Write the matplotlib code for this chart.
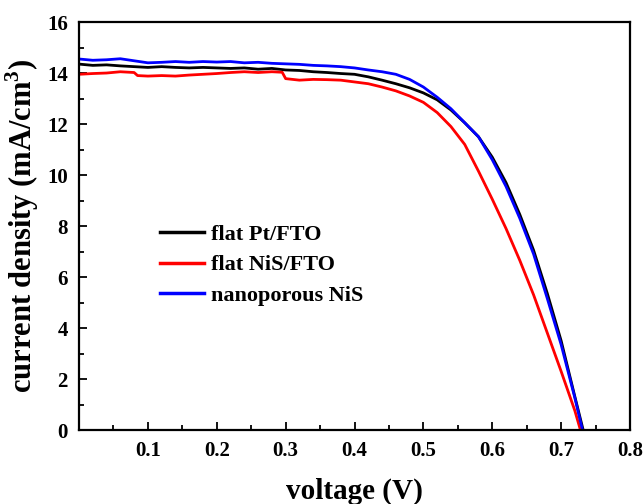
import numpy as np
import matplotlib
matplotlib.use('Agg')
import matplotlib.pyplot as plt
from matplotlib.ticker import MultipleLocator

plt.rcParams['font.family'] = ['Liberation Serif', 'DejaVu Serif']
plt.rcParams['font.weight'] = 'bold'
plt.rcParams['mathtext.fontset'] = 'custom'
plt.rcParams['mathtext.rm'] = 'Liberation Serif:bold'
plt.rcParams['mathtext.bf'] = 'Liberation Serif:bold'

# J-V curves, voltage in V, current density in mA/cm3
v_pt = [0.00, 0.02, 0.04, 0.06, 0.08, 0.10, 0.12, 0.14, 0.16, 0.18, 0.20, 0.22,
        0.24, 0.26, 0.28, 0.30, 0.32, 0.34, 0.36, 0.38, 0.40, 0.42, 0.44, 0.46,
        0.48, 0.50, 0.52, 0.54, 0.56, 0.58, 0.60, 0.62, 0.64, 0.66, 0.68, 0.70,
        0.72, 0.732]
j_pt = [14.35, 14.30, 14.32, 14.28, 14.25, 14.22, 14.25, 14.22, 14.20, 14.22, 14.20, 14.18,
        14.20, 14.15, 14.18, 14.12, 14.10, 14.05, 14.02, 13.98, 13.95, 13.85, 13.72, 13.58,
        13.42, 13.22, 12.95, 12.55, 12.05, 11.50, 10.70, 9.70, 8.45, 7.05, 5.35, 3.50,
        1.30, 0.0]

v_nis = [0.00, 0.02, 0.04, 0.06, 0.08, 0.085, 0.10, 0.12, 0.14, 0.16, 0.18, 0.20,
         0.22, 0.24, 0.26, 0.28, 0.295, 0.30, 0.32, 0.34, 0.36, 0.38, 0.40, 0.42,
         0.44, 0.46, 0.48, 0.50, 0.52, 0.54, 0.56, 0.58, 0.60, 0.62, 0.64, 0.66,
         0.68, 0.70, 0.72, 0.728]
j_nis = [13.95, 13.98, 14.00, 14.05, 14.02, 13.90, 13.88, 13.90, 13.88, 13.92, 13.95, 13.98,
         14.02, 14.05, 14.02, 14.05, 14.03, 13.78, 13.72, 13.75, 13.74, 13.72, 13.65, 13.58,
         13.45, 13.30, 13.10, 12.85, 12.45, 11.90, 11.20, 10.15, 9.05, 7.90, 6.65, 5.30,
         3.80, 2.30, 0.75, 0.0]

v_nano = [0.00, 0.02, 0.04, 0.06, 0.08, 0.10, 0.12, 0.14, 0.16, 0.18, 0.20, 0.22,
          0.24, 0.26, 0.28, 0.30, 0.32, 0.34, 0.36, 0.38, 0.40, 0.42, 0.44, 0.46,
          0.48, 0.50, 0.52, 0.54, 0.56, 0.58, 0.60, 0.62, 0.64, 0.66, 0.68, 0.70,
          0.72, 0.731]
j_nano = [14.55, 14.50, 14.52, 14.56, 14.48, 14.40, 14.42, 14.45, 14.42, 14.45, 14.43, 14.45,
          14.40, 14.42, 14.38, 14.36, 14.34, 14.30, 14.28, 14.25, 14.20, 14.12, 14.05, 13.95,
          13.75, 13.45, 13.05, 12.60, 12.05, 11.50, 10.60, 9.55, 8.30, 6.90, 5.15, 3.35,
          1.25, 0.0]

labels = ['flat Pt/FTO', 'flat NiS/FTO', 'nanoporous NiS']
colors = ['black', 'red', 'blue']

fig = plt.figure(figsize=(6.43, 5.04), dpi=100)
ax = fig.add_axes([0.1229, 0.1468, 0.8569, 0.8095])

for v, j, lab, c in zip([v_pt, v_nis, v_nano], [j_pt, j_nis, j_nano], labels, colors):
    ax.plot(v, j, color=c, lw=2.0, label=lab)

ax.set_xlim(0, 0.8)
ax.set_ylim(0, 16)
ax.set_xticks([0.1, 0.2, 0.3, 0.4, 0.5, 0.6, 0.7, 0.8])
ax.xaxis.set_minor_locator(MultipleLocator(0.05))
ax.yaxis.set_major_locator(MultipleLocator(2))
ax.yaxis.set_minor_locator(MultipleLocator(1))

ax.tick_params(which='both', direction='in', top=False, right=False,
               labelsize=15, width=1.3)
ax.tick_params(which='major', length=6, pad=8)
ax.tick_params(which='minor', length=3.5)
for s in ax.spines.values():
    s.set_linewidth(1.6)

ax.set_xlabel('voltage (V)', fontsize=21, fontweight='bold', labelpad=12)
ax.set_ylabel('current density (mA/cm$^{3}$)', fontsize=22, fontweight='bold', labelpad=4)

leg = ax.legend(loc='upper left', bbox_to_anchor=(0.11, 0.553), frameon=False,
                fontsize=16, handlelength=2.0, handletextpad=0.3, labelspacing=0.44)
for line in leg.get_lines():
    line.set_linewidth(2.5)

fig.savefig('out.png', dpi=100)
